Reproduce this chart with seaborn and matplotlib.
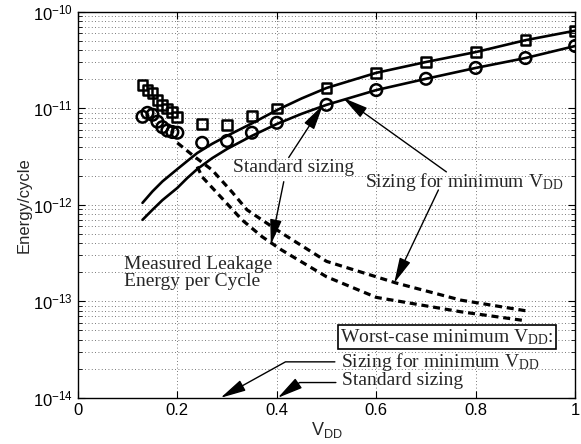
import numpy as np
import pandas as pd
import matplotlib
matplotlib.use("Agg")
import matplotlib.pyplot as plt
import seaborn as sns

# measured total energy per cycle (markers)
vdd_meas = [0.13, 0.14, 0.15, 0.16, 0.17, 0.18, 0.19, 0.20, 0.25, 0.30,
            0.35, 0.40, 0.50, 0.60, 0.70, 0.80, 0.90, 1.00]
e_min_sizing = [1.75e-11, 1.55e-11, 1.45e-11, 1.23e-11, 1.09e-11, 1.0e-11, 9.2e-12, 8.2e-12,
                6.9e-12, 6.7e-12, 8.3e-12, 1.0e-11, 1.63e-11, 2.34e-11, 3.03e-11, 3.84e-11,
                5.1e-11, 6.4e-11]
e_std_sizing = [8.2e-12, 9.0e-12, 8.6e-12, 7.3e-12, 6.4e-12, 5.9e-12, 5.7e-12, 5.6e-12,
                4.4e-12, 4.6e-12, 5.6e-12, 7.1e-12, 1.09e-11, 1.55e-11, 2.03e-11, 2.63e-11,
                3.33e-11, 4.44e-11]

# solid model curves
vdd_fit = [0.13, 0.15, 0.17, 0.20, 0.22, 0.24, 0.27, 0.30, 0.35, 0.40, 0.45,
           0.50, 0.60, 0.70, 0.80, 0.90, 1.00]
fit_min_sizing = [1.05e-12, 1.38e-12, 1.75e-12, 2.35e-12, 2.85e-12, 3.45e-12, 4.3e-12, 5.2e-12,
                  7.0e-12, 9.6e-12, 1.27e-11, 1.63e-11, 2.34e-11, 3.03e-11, 3.84e-11,
                  5.1e-11, 6.4e-11]
fit_std_sizing = [7.0e-13, 8.9e-13, 1.12e-12, 1.5e-12, 1.9e-12, 2.35e-12, 3.05e-12, 3.8e-12,
                  5.2e-12, 6.9e-12, 8.8e-12, 1.09e-11, 1.55e-11, 2.03e-11, 2.63e-11,
                  3.33e-11, 4.44e-11]

# measured leakage energy per cycle (dashed)
vdd_leak_min = [0.20, 0.23, 0.27, 0.31, 0.34, 0.37, 0.41, 0.50, 0.64, 0.77, 0.90]
leak_min_sizing = [4.4e-12, 3.3e-12, 2.3e-12, 1.36e-12, 8.9e-13, 7.0e-13, 5.1e-13,
                   2.6e-13, 1.55e-13, 1.03e-13, 8.0e-14]
vdd_leak_std = [0.24, 0.25, 0.29, 0.33, 0.37, 0.41, 0.50, 0.60, 0.77, 0.90]
leak_std_sizing = [2.5e-12, 1.95e-12, 1.17e-12, 7.0e-13, 4.7e-13, 3.4e-13, 1.8e-13,
                   1.1e-13, 7.8e-14, 6.3e-14]

x_ticks = [0, 0.2, 0.4, 0.6, 0.8, 1]
x_tick_labels = ["0", "0.2", "0.4", "0.6", "0.8", "1"]
y_ticks = [1e-14, 1e-13, 1e-12, 1e-11, 1e-10]
y_tick_labels = [r"$\mathsf{10^{-14}}$", r"$\mathsf{10^{-13}}$", r"$\mathsf{10^{-12}}$",
                 r"$\mathsf{10^{-11}}$", r"$\mathsf{10^{-10}}$"]

sns.set_style("ticks")
plt.rcParams["font.family"] = ["Liberation Sans", "DejaVu Sans"]
plt.rcParams["mathtext.fontset"] = "custom"
plt.rcParams["mathtext.rm"] = "Liberation Serif"
plt.rcParams["mathtext.sf"] = "Liberation Sans"
plt.rcParams["mathtext.it"] = "Liberation Serif:italic"

fig = plt.figure(figsize=(5.81, 4.44), dpi=100)
ax = fig.add_axes([0.134, 0.104, 0.856, 0.869])
ax.set_yscale("log")

fit_df = pd.DataFrame({"vdd": vdd_fit, "min": fit_min_sizing, "std": fit_std_sizing})
meas_df = pd.DataFrame({"vdd": vdd_meas, "min": e_min_sizing, "std": e_std_sizing})

# leakage (dashed)
sns.lineplot(x=vdd_leak_min, y=leak_min_sizing, ax=ax, color="black", lw=2.3,
             linestyle=(0, (2.2, 1.5)), zorder=2)
sns.lineplot(x=vdd_leak_std, y=leak_std_sizing, ax=ax, color="black", lw=2.3,
             linestyle=(0, (2.2, 1.5)), zorder=2)

# model curves
sns.lineplot(data=fit_df, x="vdd", y="min", ax=ax, color="black", lw=1.9, zorder=3)
sns.lineplot(data=fit_df, x="vdd", y="std", ax=ax, color="black", lw=1.9, zorder=3)

# measured points
sns.scatterplot(data=meas_df, x="vdd", y="min", ax=ax, marker="s", s=50,
                facecolor="none", edgecolor="black", linewidth=1.8, zorder=4)
sns.scatterplot(data=meas_df, x="vdd", y="std", ax=ax, marker="o", s=70,
                facecolor="none", edgecolor="black", linewidth=1.8, zorder=4)

ax.set_xlim(0, 1)
ax.set_ylim(1e-14, 1e-10)
ax.set_xticks(x_ticks)
ax.set_xticklabels(x_tick_labels)
ax.set_yticks(y_ticks)
ax.set_yticklabels(y_tick_labels)
ax.tick_params(axis="both", which="both", direction="in", top=True, right=True,
               labelsize=12, colors="black")
ax.tick_params(which="major", length=5)
ax.tick_params(which="minor", length=3)
ax.grid(True, which="major", color="0.3", linestyle=(0, (1, 3)), linewidth=0.6)
ax.grid(True, which="minor", axis="y", color="0.3", linestyle=(0, (1, 3)), linewidth=0.6)
for sp in ax.spines.values():
    sp.set_color("black")
    sp.set_linewidth(1.0)

ax.set_xlabel(r"$\mathsf{V_{DD}}$", fontsize=13, labelpad=2)
ax.set_ylabel("Energy/cycle", fontsize=12, labelpad=1)

serif = {"family": "Liberation Serif", "size": 14}
arrow = dict(arrowstyle="-|>,head_length=1.3,head_width=0.3", color="black",
             lw=1.0, mutation_scale=12, shrinkA=0, shrinkB=0)

ax.text(0.434, 2.42e-12, "Standard sizing", fontdict=serif, ha="center", va="center")
ax.annotate("", xy=(0.493, 1.09e-11), xytext=(0.424, 3.1e-12), arrowprops=arrow)
ax.annotate("", xy=(0.388, 3.86e-13), xytext=(0.414, 1.74e-12), arrowprops=arrow)

ax.text(0.776, 1.74e-12, r"Sizing for minimum V$_{\mathrm{DD}}$", fontdict=serif,
        ha="center", va="center")
ax.annotate("", xy=(0.533, 1.29e-11), xytext=(0.741, 2.2e-12), arrowprops=arrow)
ax.annotate("", xy=(0.636, 1.55e-13), xytext=(0.725, 1.43e-12), arrowprops=arrow)

ax.text(0.093, 1.97e-13, "Measured Leakage\nEnergy per Cycle", fontdict=serif,
        ha="left", va="center", linespacing=0.95)

ax.text(0.528, 4.28e-14, r"Worst-case minimum V$_{\mathrm{DD}}$:", fontdict=serif,
        ha="left", va="center",
        bbox=dict(boxstyle="square,pad=0.12", facecolor="white", edgecolor="black", lw=1.2))

# bent leader lines: horizontal from the text, then diagonal to the axis
bent = dict(arrow, connectionstyle="angle,angleA=0,angleB=29,rad=0", shrinkA=2,
            relpos=(0.0, 0.5))
ax.annotate(r"Sizing for minimum V$_{\mathrm{DD}}$", xy=(0.287, 1e-14),
            xytext=(0.529, 2.36e-14), fontsize=14, family="Liberation Serif",
            ha="left", va="center", arrowprops=bent, annotation_clip=False)
bent2 = dict(arrow, connectionstyle="angle,angleA=0,angleB=35,rad=0", shrinkA=2,
             relpos=(0.0, 0.4))
ax.annotate("Standard sizing", xy=(0.402, 1e-14),
            xytext=(0.531, 1.5e-14), fontsize=14, family="Liberation Serif",
            ha="left", va="center", arrowprops=bent2, annotation_clip=False)

fig.savefig("out.png", dpi=100)
